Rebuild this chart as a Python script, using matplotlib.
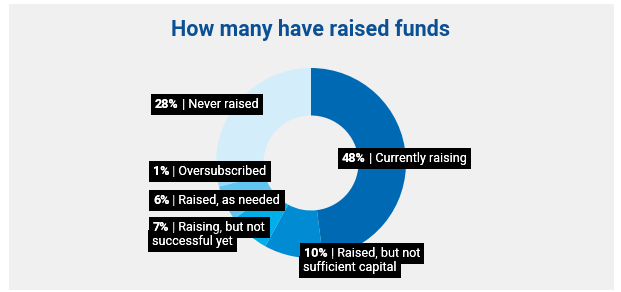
import matplotlib
matplotlib.use("Agg")
import matplotlib.pyplot as plt
from matplotlib.patches import Rectangle
from matplotlib.text import Annotation

W, H = 621, 292

# data
categories = ["Currently raising", "Raised, but not\nsufficient capital",
              "Raising, but not\nsuccessful yet", "Raised, as needed",
              "Oversubscribed", "Never raised"]
shares = [48, 10, 7, 6, 1, 28]
colors = ["#0069b4", "#008bd2", "#00aee9", "#5fc6f0", "#9dd9f6", "#d4edfb"]

# label anchor (left x, baseline y of first line) in pixels from top-left
label_pos = [(342, 162), (304, 257), (153, 231), (153, 204), (153, 175), (155, 108)]

label_font = ["Roboto", "DejaVu Sans"]

fig = plt.figure(figsize=(W / 100, H / 100), dpi=100)
fig.patch.set_facecolor("white")
fig.patches.append(Rectangle((9 / W, 2 / H), 605 / W, 286 / H, transform=fig.transFigure,
                             facecolor="#f0f0f0", edgecolor="none", zorder=-5))

fig.text(311 / W, 1 - 36 / H, "How many have raised funds", ha="center", va="baseline",
         fontsize=15.5, fontweight="bold", color="#0b4f94", family=["Roboto", "DejaVu Sans"])

cx, cy, R = 311, 163, 95
ax = fig.add_axes([(cx - R) / W, 1 - (cy + R) / H, 2 * R / W, 2 * R / H])
ax.pie(shares, colors=colors, startangle=90, counterclock=False, radius=1,
       wedgeprops=dict(width=0.5, edgecolor="none"))
ax.set_xlim(-1, 1)
ax.set_ylim(-1, 1)
ax.set_aspect("equal")
ax.axis("off")

box = dict(boxstyle="square,pad=0.35", facecolor="black", edgecolor="none")


def label(x, y, pct, lines):
    # black boxes first, white text drawn on top of all boxes
    for z, bb in ((5, box), (10, None)):
        t = fig.text(x / W, 1 - y / H, f"{pct}%", ha="left", va="baseline", fontsize=9,
                     fontweight="bold", color="white", family=label_font, bbox=bb, zorder=z)
        a = Annotation(" | " + lines[0], xy=(1, 0), xycoords=t, ha="left", va="bottom",
                       fontsize=9, color="white", family=label_font, bbox=bb,
                       annotation_clip=False, zorder=z)
        fig.add_artist(a)
        for i, ln in enumerate(lines[1:], start=1):
            fig.text((x - 1) / W, 1 - (y + 13.5 * i) / H, ln, ha="left", va="baseline",
                     fontsize=9, color="white", family=label_font, bbox=bb, zorder=z)


for (x, y), cat, pct in zip(label_pos, categories, shares):
    label(x, y, pct, cat.split("\n"))

fig.savefig("out.png", dpi=100, facecolor="white")
